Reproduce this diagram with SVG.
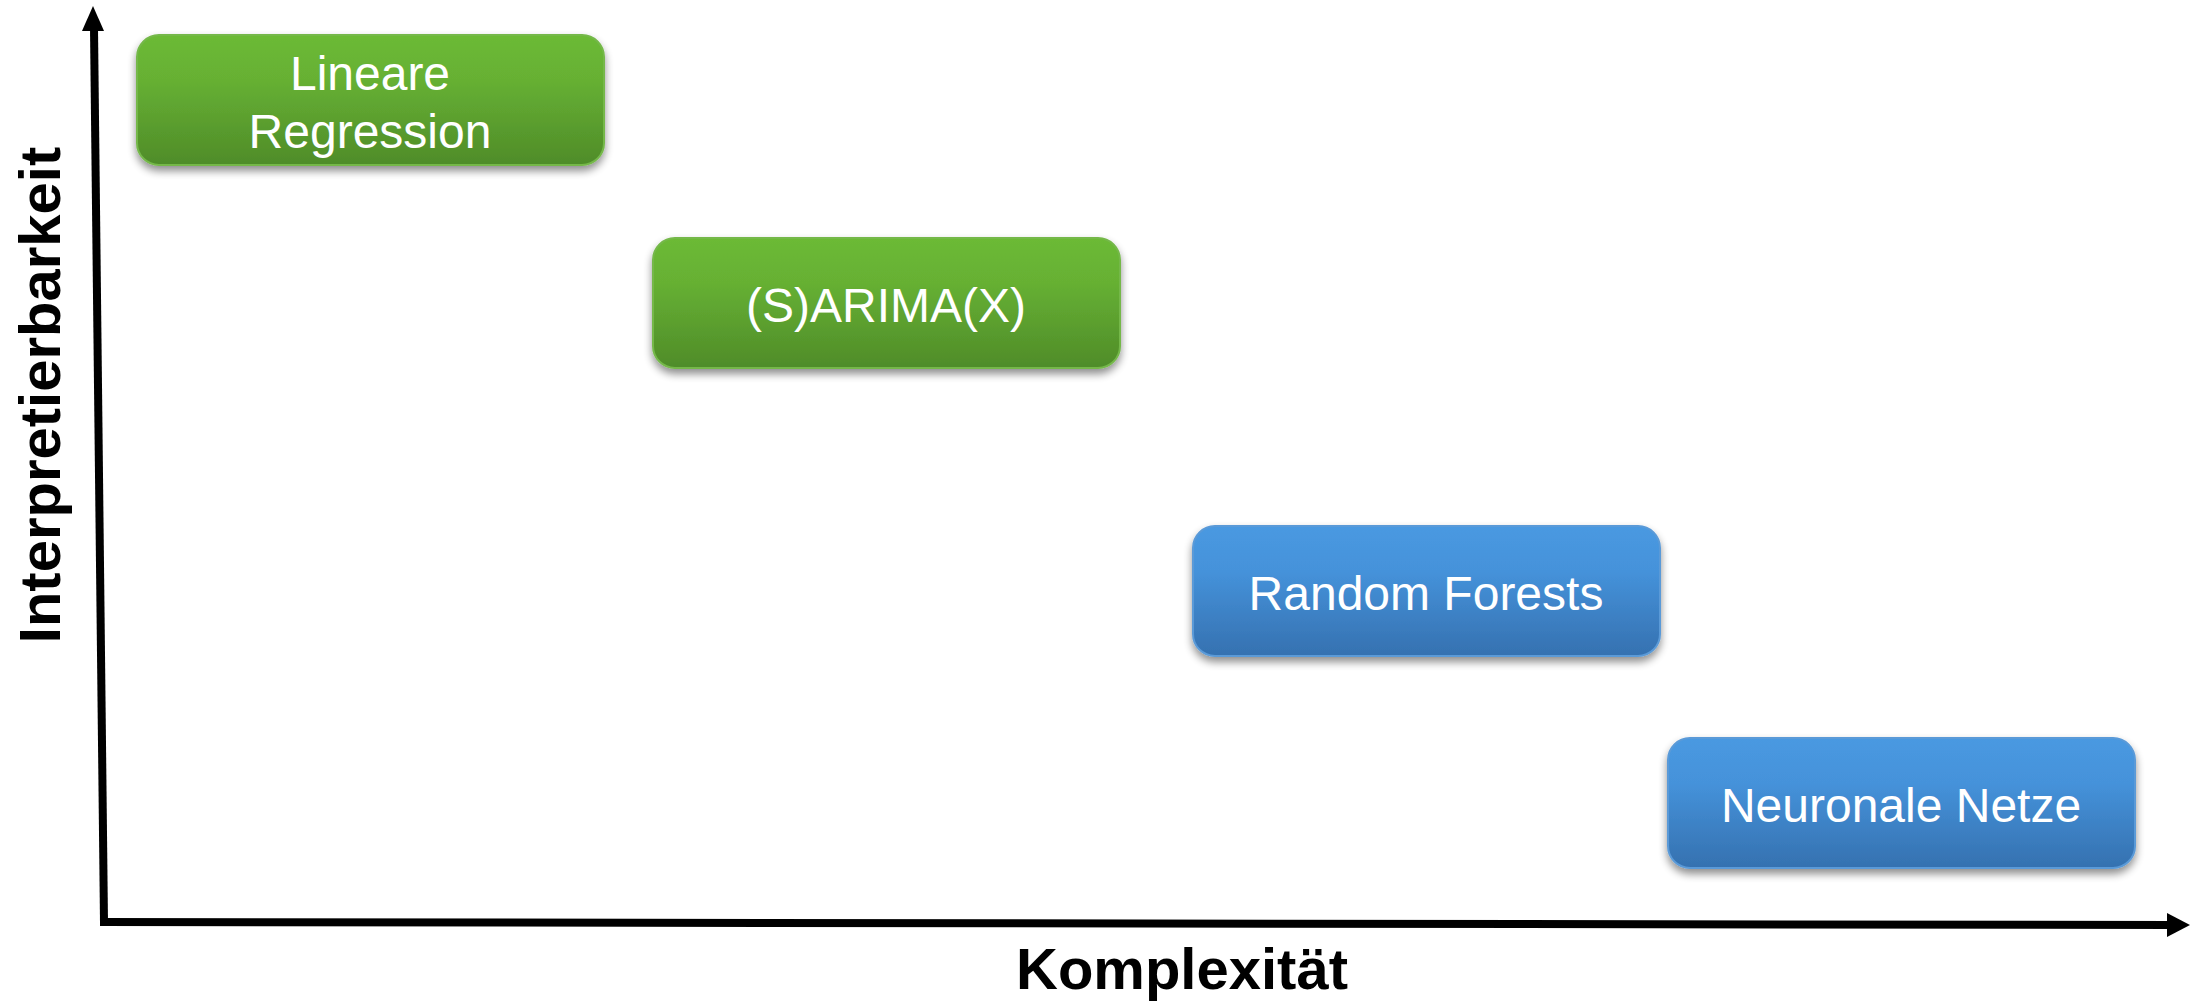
<svg xmlns="http://www.w3.org/2000/svg" width="2192" height="1002" viewBox="0 0 2192 1002">
  <defs>
    <linearGradient id="gGreen" x1="0" y1="0" x2="0" y2="1">
      <stop offset="0" stop-color="#6cba36"/>
      <stop offset="0.35" stop-color="#66b033"/>
      <stop offset="1" stop-color="#4f8c29"/>
    </linearGradient>
    <linearGradient id="gBlue" x1="0" y1="0" x2="0" y2="1">
      <stop offset="0" stop-color="#4999e1"/>
      <stop offset="0.35" stop-color="#4592da"/>
      <stop offset="1" stop-color="#3571b0"/>
    </linearGradient>
    <filter id="shadow" x="-10%" y="-20%" width="120%" height="150%">
      <feGaussianBlur in="SourceAlpha" stdDeviation="4"/>
      <feOffset dx="0" dy="5" result="b"/>
      <feComponentTransfer><feFuncA type="linear" slope="0.45"/></feComponentTransfer>
      <feMerge><feMergeNode/><feMergeNode in="SourceGraphic"/></feMerge>
    </filter>
  </defs>
  <style>
    .box { filter: url(#shadow); stroke-width: 2; }
    .green { fill: url(#gGreen); stroke: #74b84a; }
    .blue { fill: url(#gBlue); stroke: #5a9ad8; }
    .lbl { font-family: "Liberation Sans", Arial, sans-serif; font-size: 48px; fill: #ffffff; text-anchor: middle; }
    .axis { font-family: "Liberation Sans", Arial, sans-serif; font-size: 58px; font-weight: bold; fill: #000000; text-anchor: middle; }
  </style>
  <rect width="2192" height="1002" fill="#ffffff"/>

  <!-- axes -->
  <g id="connectors">
    <line x1="94" y1="28" x2="104" y2="922" stroke="#000" stroke-width="8"/>
    <polygon points="93,6 82,31 104,31" fill="#000"/>
    <line x1="100" y1="922" x2="2170" y2="925" stroke="#000" stroke-width="8"/>
    <polygon points="2190,925 2167,913 2167,937" fill="#000"/>
  </g>

  <g id="label-x">
    <text class="axis" x="1182" y="989">Komplexität</text>
  </g>
  <g id="label-y">
    <text class="axis" transform="translate(60,395) rotate(-90)">Interpretierbarkeit</text>
  </g>

  <g id="node-linreg">
    <rect class="box green" x="137" y="35" width="467" height="130" rx="22"/>
    <text class="lbl" x="370" y="90">Lineare</text>
    <text class="lbl" x="370" y="148">Regression</text>
  </g>
  <g id="node-sarimax">
    <rect class="box green" x="653" y="238" width="467" height="130" rx="22"/>
    <text class="lbl" x="886" y="322">(S)ARIMA(X)</text>
  </g>
  <g id="node-rf">
    <rect class="box blue" x="1193" y="526" width="467" height="130" rx="22"/>
    <text class="lbl" x="1426" y="610">Random Forests</text>
  </g>
  <g id="node-nn">
    <rect class="box blue" x="1668" y="738" width="467" height="130" rx="22"/>
    <text class="lbl" x="1901" y="822">Neuronale Netze</text>
  </g>
</svg>
